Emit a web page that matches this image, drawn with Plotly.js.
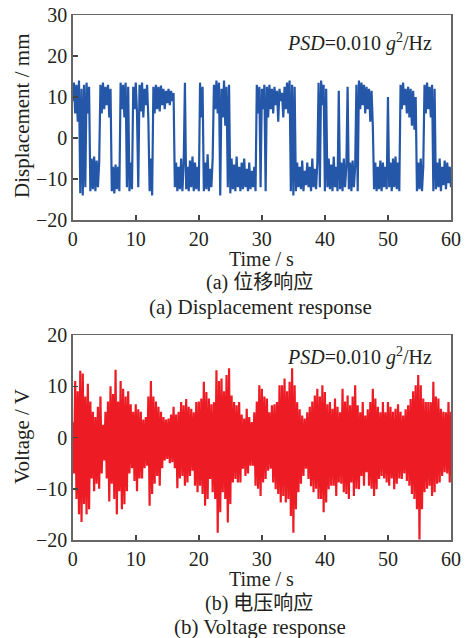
<!DOCTYPE html>
<html>
<head>
<meta charset="utf-8">
<script src="https://cdn.plot.ly/plotly-3.0.1.min.js"></script>
<style>
html,body{margin:0;padding:0;background:#fff;}
#chart{width:465px;height:638px;}
</style>
</head>
<body>
<div id="chart"></div>
<script>
const timeStart = 0;
const timeStep = 0.2;
const xTicks = [0, 10, 20, 30, 40, 50, 60];
const dispTicks = [-20, -10, 0, 10, 20, 30];
const voltTicks = [-20, -10, 0, 10, 20];

const displacement = [
  9, 13.5, 6, 13, 4, 14, -13.5, 12, -14, 13,
  -12, 13.5, 6, 12.5, -13, -5, -12.5, -4.5, -13, -5.5,
  -12, -6, 13, 6, 13.5, 7, 12.5, 8, 13, 5,
  12, -13, -7, -13.5, -6.5, -12.5, -7, -13, 13.5, 7,
  13, 5, 13.5, -12, 12.5, -13, -6, -12.5, 12.5, 7,
  13.5, 6, -12, 13, 6.5, 13.5, 5, 12, 8, 13,
  4.5, -13, -5, -14, 12.5, 6, 13, 7, 12.5, 6.5,
  12.8, 8, 12, 7, 11.5, 8.5, 12, 8, 11.5, 9,
  11, -12, -6, -13, -7, -12.5, -5, -13, -6.5, 13.5,
  -12.5, -7, -13, -5.5, -12, -4.5, -13, -6, -12.5, -7,
  -13, 13.5, 5, 12.5, -13, -6, -12.5, -4, -13, -7.5,
  -12, -5, 13, 7, 14, 6, 13.5, -14, 12, 5,
  14, 3, 12.5, -12, 13, -13.5, -5, -12.5, -6.5, -13,
  -4.5, -12, -7, -13, -6, -12.5, -5, -12, -7.5, -13,
  -6, -12.5, -8, -12, -7, -13, 13, 6, 12.5, -12,
  12, 7, 13, -13, 12.5, 5, 13, 7, 12, 6,
  12.5, 8, 11.5, 4, 12, 9, 11, 5, 12.5, 7,
  13.5, 6, 14, -13, 13, -14, 12.5, -13, -6, -12,
  -7, -12.5, -5.5, -13, -8, -11.5, -6, -12, -7, -13,
  -5, -12, -7.5, -12.5, -6, 13.5, -12, 14, 8, 13,
  -13, 12, -12, -5, -12.5, -6.5, -13, -4.5, -12, -7,
  -13, 11.5, -12.5, -6, -13, -5, -12, -7, 12.5, -12.5,
  -6, -13, -5.5, -12, -7, 13, -13, 14, 7, 13.5,
  8, 13, 6, 12.5, 7, 12, 4, 11.5, 3, -12.5,
  -6, -13, -7, -12.5, -5.5, -13, -6, -12, -7, -12.5,
  10, -12, -6, -13, -5, -12, -4.5, -12.5, -6, -13,
  13, 7, 13.5, 8, 12, 6, 12.5, 5, 12, 3,
  11.5, 2, 10, -13, -6, -12.5, -5, -13, -7, 13,
  6, 13.5, 7, 12.5, 5, 13, -13, 12, -12.5, -6,
  -12, -5, -13, -7, -11.5, -5.5, -12.5, -6, -11, -7,
  -12
];

const voltage = [
  3, -7, 11, -12, 9, -15, 13, -16.5, 12.5, -13,
  8, -15, 10.5, -14, 7, -8, 5, -10.5, 4, -9,
  6, -10, 8, -7, 2.5, -4.5, 5, -8, 7, -12.5,
  10, -9, 8.5, -12, 13.2, -15, 7, -10.5, 11, -14,
  9.5, -13, 8, -10.5, 9, -7, 6.5, -6, 5, -8.5,
  6.5, -10.5, 5.5, -8, 5, -8, 3.5, -6, 4, -5.5,
  8, -13.3, 11, -11, 8, -9, 7, -7.5, 6, -9.4,
  5, -6, 4, -4.5, 3.5, -4.2, 3.7, -5, 4.5, -4.8,
  6, -6, 4.5, -9.9, 5, -8, 6.9, -7.5, 6.3, -9.4,
  7.5, -8.8, 6, -7.5, 5.6, -6.5, 4.9, -9.4, 6.9, -10.7,
  7, -9.4, 7.6, -11, 10.9, -13.3, 8.9, -12, 7.6, -8.1,
  6.5, -10.7, 6.9, -12, 13.1, -18.6, 11, -14.6, 11.5, -10.7,
  9, -12, 12.2, -16.6, 13.5, -13, 8.2, -8.8, 6.9, -8.1,
  6.3, -8.8, 6.9, -8.8, 4.5, -6.1, 3.7, -7.5, 5.6, -7,
  4, -5.5, 3, -5.5, 4.9, -9.4, 7, -10, 10.2, -11.4,
  9.5, -8.8, 8, -8.1, 7.6, -6.5, 4.9, -6.1, 6.3, -8.8,
  6.5, -10.1, 6.9, -11, 10.2, -12.7, 10.2, -11.4, 11.5, -12.7,
  9, -12, 10.9, -15.3, 13.5, -18.6, 10.2, -14, 6.9, -10.7,
  5.5, -9, 4.3, -7.5, 3.7, -6.1, 4.9, -8.1, 6, -9.5,
  7, -10.7, 8.2, -10, 9.5, -12, 8, -12, 10.2, -14.6,
  8.9, -12.7, 6.5, -10.1, 6.9, -9.4, 5.6, -9.4, 7.6, -11.4,
  6, -8.8, 4.9, -9, 9.5, -10.7, 7, -11, 8.2, -12,
  6.3, -8.8, 8, -11.4, 10.2, -10, 6.3, -10.1, 4.9, -7.5,
  6.9, -9.4, 4.3, -6.8, 5.5, -9.4, 6.9, -10, 9.5, -11.4,
  7.6, -10.1, 6, -8.1, 4.9, -7.5, 6.9, -8, 4.9, -8.8,
  6.9, -9.4, 6, -8, 5, -10.1, 5.6, -9, 6.5, -8,
  5, -8.1, 4.3, -7, 5.5, -8.5, 6.3, -9.4, 7.5, -11,
  9, -12, 10.2, -14, 12.2, -19.9, 10.2, -14, 7.6, -10.7,
  6.9, -10, 6.9, -9.4, 6.9, -11.4, 10.9, -10.7, 8, -9,
  7.6, -8.8, 5.6, -7.5, 5, -6.8, 4.9, -7, 6.9, -8.8,
  5
];

// ---- figure ----
const W = 465, H = 638;
const serif = 'Liberation Serif, Times New Roman, serif';
const cjk = 'Liberation Serif, Noto Sans CJK SC, serif';
const ink = '#231f20';
const px = v => v / W;
const py = v => 1 - v / H;

const axisStyle = {
  showgrid: false, zeroline: false,
  showline: true, mirror: true, linecolor: '#666', linewidth: 1.5,
  ticks: 'inside', ticklen: 5, tickwidth: 1.5, tickcolor: '#444',
  tickfont: {family: serif, size: 20, color: ink},
  fixedrange: true
};

const traces = [
  {x0: timeStart, dx: timeStep, y: displacement, type: 'scatter', mode: 'lines',
   line: {color: '#2457a8', width: 2.2}, xaxis: 'x', yaxis: 'y', hoverinfo: 'skip'},
  {x0: timeStart, dx: timeStep, y: voltage, type: 'scatter', mode: 'lines',
   line: {color: '#ed1c24', width: 2.2}, xaxis: 'x2', yaxis: 'y2', hoverinfo: 'skip'}
];

function note(text, x, y, size, family, extra) {
  return Object.assign({text: text, xref: 'paper', yref: 'paper', x: px(x), y: py(y),
    xanchor: 'center', yanchor: 'middle', showarrow: false,
    font: {family: family, size: size, color: ink}}, extra || {});
}

const layout = {
  width: W, height: H,
  margin: {l: 0, r: 0, t: 0, b: 0},
  paper_bgcolor: '#fff', plot_bgcolor: '#fff',
  showlegend: false,
  xaxis: Object.assign({}, axisStyle, {domain: [px(72.7), px(451)], range: [0, 60],
    tickvals: xTicks, anchor: 'y'}),
  yaxis: Object.assign({}, axisStyle, {domain: [py(220), py(15)], range: [-20, 30],
    tickvals: dispTicks, anchor: 'x'}),
  xaxis2: Object.assign({}, axisStyle, {domain: [px(72.7), px(451)], range: [0, 60],
    tickvals: xTicks, anchor: 'y2'}),
  yaxis2: Object.assign({}, axisStyle, {domain: [py(540), py(335)], range: [-20, 20],
    tickvals: voltTicks, anchor: 'x2'}),
  annotations: [
    note('<i>PSD</i>=0.010 <i>g</i><sup>2</sup>/Hz', 434, 43, 20, serif, {xanchor: 'right'}),
    note('<i>PSD</i>=0.010 <i>g</i><sup>2</sup>/Hz', 434, 356, 20, serif, {xanchor: 'right'}),
    note('Displacement / mm', 22, 116, 21, serif, {textangle: -90}),
    note('Voltage / V', 22, 437, 21, serif, {textangle: -90}),
    note('Time / s', 261, 259, 20, serif),
    note('(a) 位移响应', 259, 283, 20, cjk),
    note('(a) Displacement response', 260, 307, 21, serif),
    note('Time / s', 261, 579, 20, serif),
    note('(b) 电压响应', 259, 603, 20, cjk),
    note('(b) Voltage response', 260, 627, 21, serif)
  ]
};

Plotly.newPlot('chart', traces, layout, {staticPlot: true, displayModeBar: false});
</script>
</body>
</html>
